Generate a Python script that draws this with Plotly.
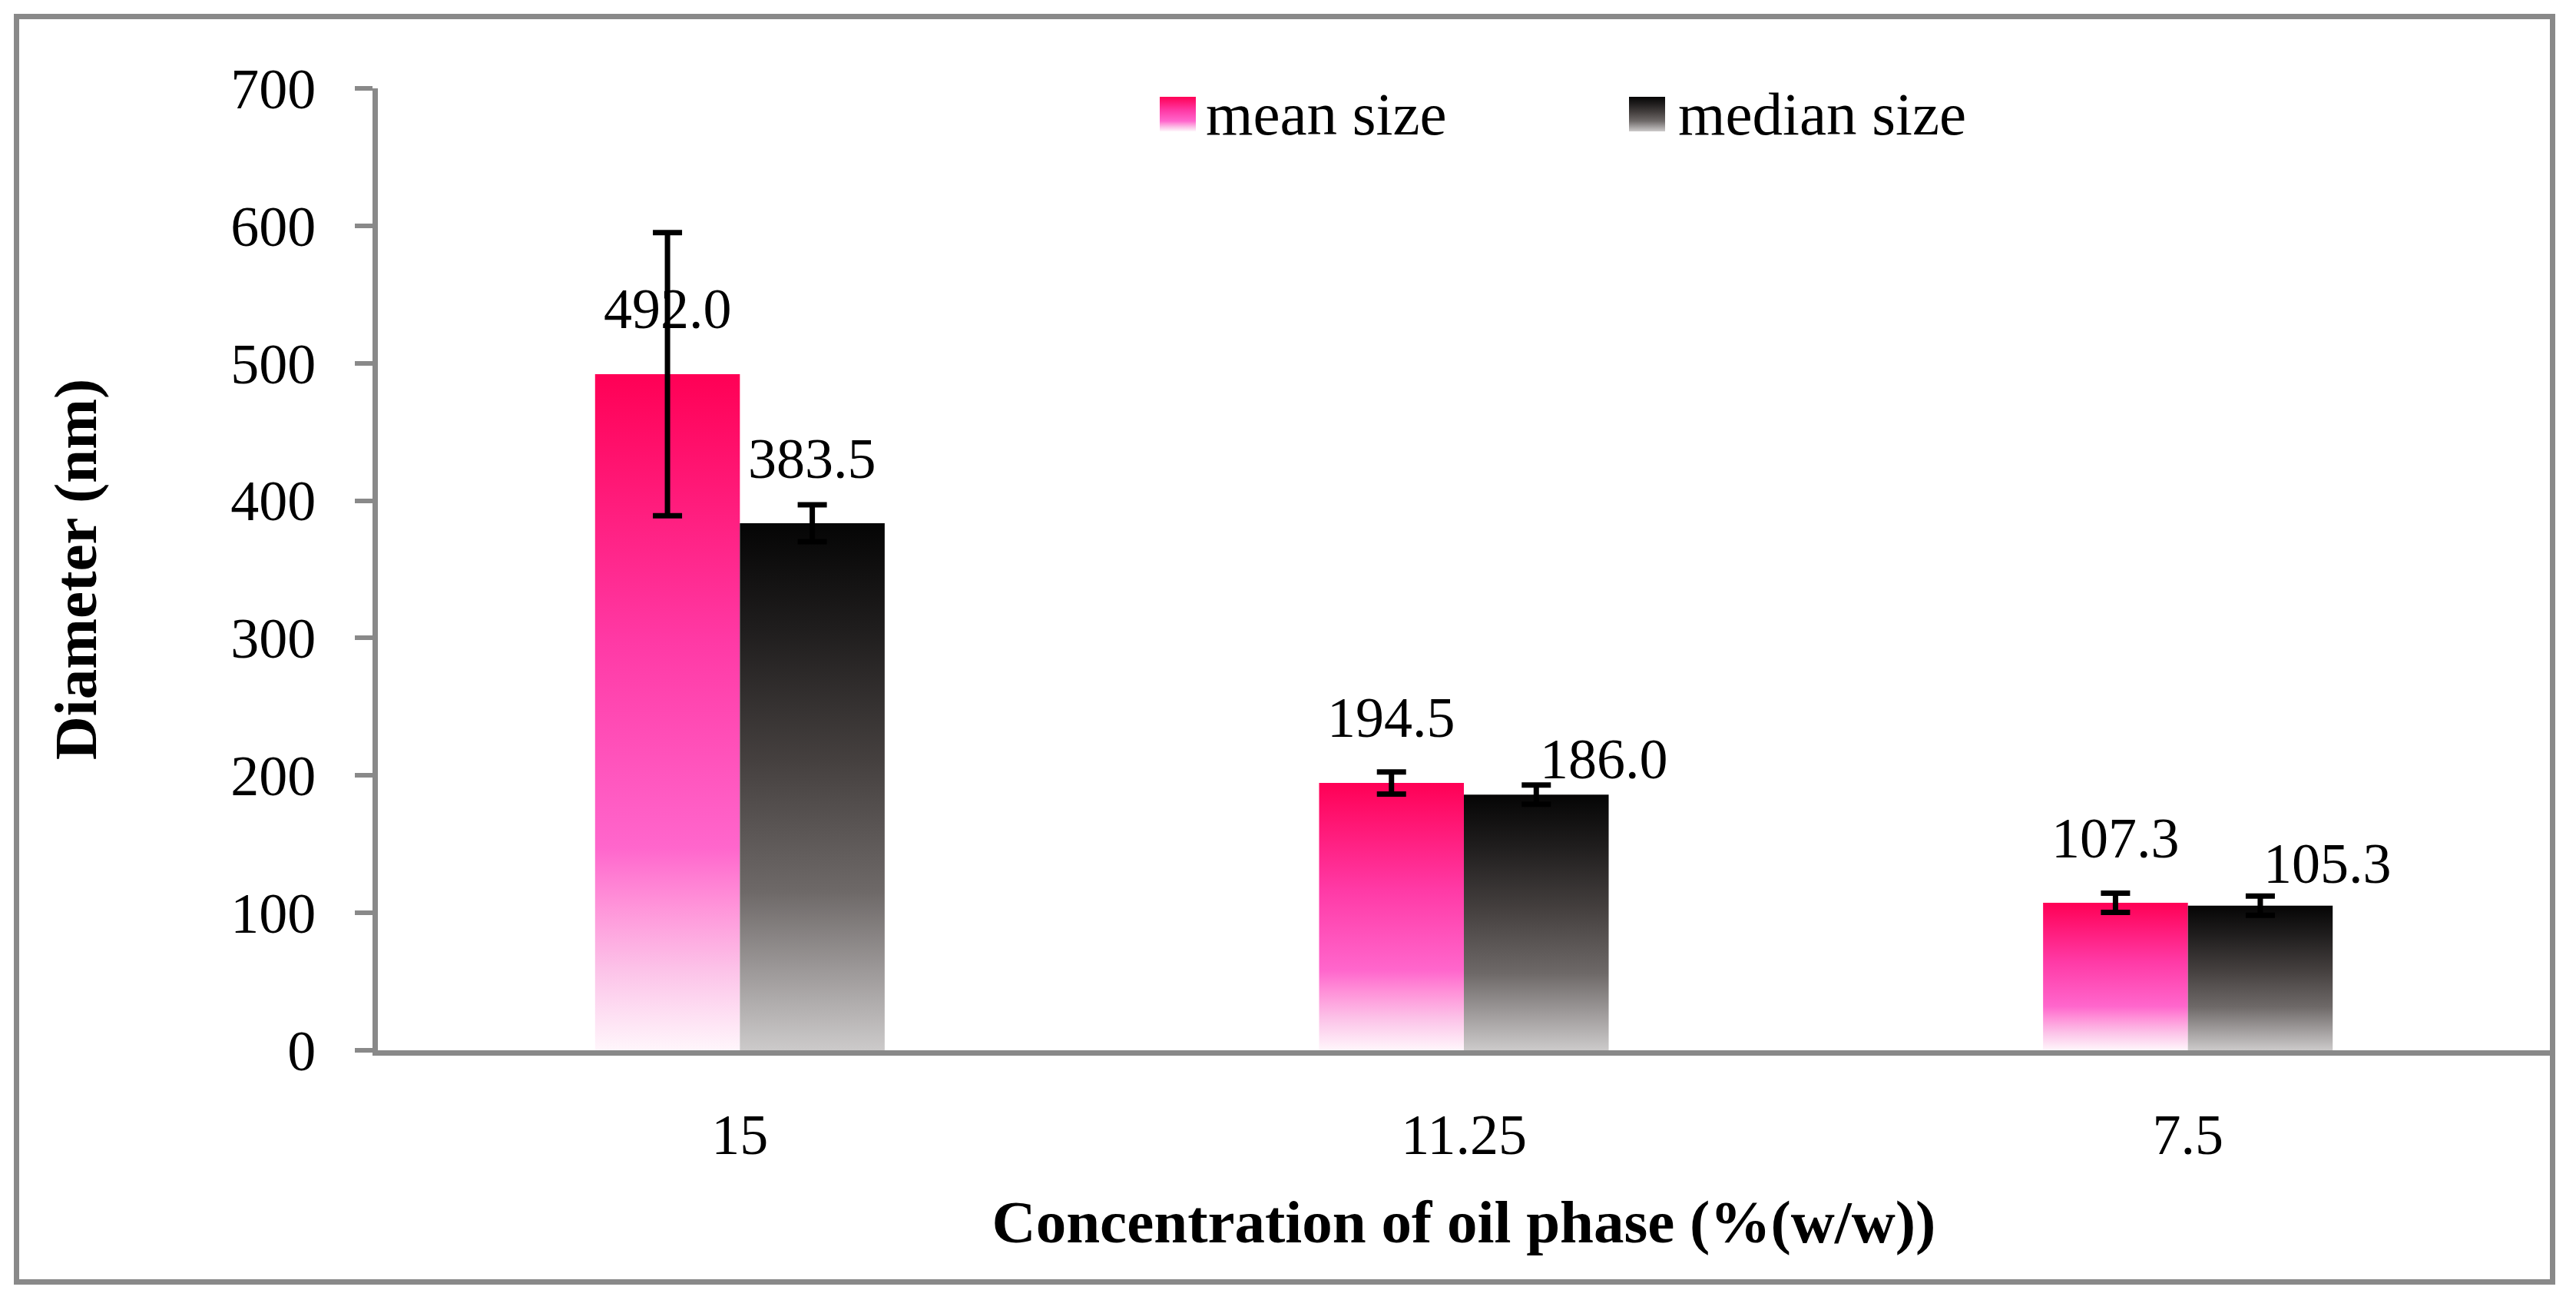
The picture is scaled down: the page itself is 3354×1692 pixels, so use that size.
import base64
import plotly.graph_objects as go

# ---------------- data ----------------
categories = ["15", "11.25", "7.5"]
series_names = ["mean size", "median size"]
mean_size = [492.0, 194.5, 107.3]
median_size = [383.5, 186.0, 105.3]
mean_err = [103.0, 8.0, 7.0]
median_err = [13.4, 7.0, 7.0]
y_tick_vals = [0, 100, 200, 300, 400, 500, 600, 700]
x_title = "Concentration of oil phase (%(w/w))"
y_title = "Diameter (nm)"

# ---------------- style ----------------
W, H = 3354, 1692
OFF = 8                      # default page margin of the html body
L, R, T, B = 484, 42, 107, 333
FONT = "Liberation Serif"
AXIS_GREY = "#898989"
BAR_W = 0.2                  # fraction of category width per bar

mean_scale = [[0.0, "#FFF6FB"], [0.12, "#FCC2E8"], [0.22, "#FF90D8"],
              [0.30, "#FF66CC"], [0.60, "#FF3AA6"], [1.0, "#FF0055"]]
median_scale = [[0.0, "#CCCACA"], [0.15, "#9D9999"], [0.30, "#6E6968"],
                [0.55, "#45403F"], [0.80, "#1F1D1D"], [1.0, "#050505"]]

# label offsets in px (dx, dy) relative to bar top centre
mean_label_shift = [(0, 85), (0, 85), (0, 84)]
median_label_shift = [(0, 84), (88, 46), (88, 55)]

# legend swatch placement (screen px)
legend_swatch_x = [1510, 2121]
LEG_SW_Y, LEG_SW_W, LEG_SW_H = 126, 47, 45

series = [
    (series_names[0], mean_size, mean_err, mean_scale, mean_label_shift),
    (series_names[1], median_size, median_err, median_scale, median_label_shift),
]

pw = W - L - R
ph = H - T - B


def px_x(p):
    return (p - OFF - L) / pw


def px_y(p):
    return (H - B - (p - OFF)) / ph


def swatch_uri(cs):
    stops = "".join(
        f'<stop offset="{pos}" stop-color="{col}"/>' for pos, col in cs)
    svg = (f'<svg xmlns="http://www.w3.org/2000/svg" width="{LEG_SW_W}" height="{LEG_SW_H}" '
           f'preserveAspectRatio="none">'
           f'<defs><linearGradient id="g" x1="0" y1="1" x2="0" y2="0">{stops}</linearGradient></defs>'
           f'<rect width="{LEG_SW_W}" height="{LEG_SW_H}" fill="url(#g)"/></svg>')
    return "data:image/svg+xml;base64," + base64.b64encode(svg.encode()).decode()


fig = go.Figure()

# bars as gradient-filled polygons (one per bar so each gets its own gradient)
for s, (name, vals, errs, cs, _) in enumerate(series):
    for i, v in enumerate(vals):
        x0 = i - BAR_W + s * BAR_W
        x1 = x0 + BAR_W
        fig.add_trace(go.Scatter(
            x=[x0, x0, x1, x1, x0], y=[0, v, v, 0, 0],
            mode="none", fill="toself",
            fillgradient=dict(type="vertical", colorscale=cs),
            name=name, legendgroup=name, showlegend=False,
            hoverinfo="skip",
        ))

# error bars
for s, (name, vals, errs, cs, _) in enumerate(series):
    xs = [i - BAR_W / 2 + s * BAR_W for i in range(len(vals))]
    fig.add_trace(go.Scatter(
        x=xs, y=vals, mode="markers",
        marker=dict(size=1, color="rgba(0,0,0,0)"),
        error_y=dict(type="data", array=errs, visible=True,
                     color="black", thickness=7, width=19),
        showlegend=False, hoverinfo="skip", legendgroup=name,
    ))

# legend entries (text from the legend, gradient swatches drawn as images)
for name in series_names:
    fig.add_trace(go.Scatter(
        x=[None], y=[None], mode="markers", name=name, legendgroup=name,
        marker=dict(size=2, color="rgba(0,0,0,0)"), showlegend=True,
    ))

images = []
for (name, vals, errs, cs, _), sx in zip(series, legend_swatch_x):
    images.append(dict(
        source=swatch_uri(cs), xref="paper", yref="paper",
        x=px_x(sx), y=px_y(LEG_SW_Y), sizex=LEG_SW_W / pw, sizey=LEG_SW_H / ph,
        xanchor="left", yanchor="top", sizing="stretch", layer="above",
    ))

# data labels
annotations = []
for s, (name, vals, errs, cs, shifts) in enumerate(series):
    for i, v in enumerate(vals):
        dx, dy = shifts[i]
        annotations.append(dict(
            x=i - BAR_W / 2 + s * BAR_W, y=v, xref="x", yref="y",
            text=f"{v:.1f}", showarrow=False,
            xanchor="center", yanchor="middle",
            xshift=dx, yshift=dy,
            font=dict(family=FONT, size=74, color="black"),
        ))

shapes = [dict(
    type="rect", xref="paper", yref="paper",
    x0=px_x(21.5), x1=px_x(3323.5), y0=px_y(1668.5), y1=px_y(21.5),
    line=dict(color=AXIS_GREY, width=7), fillcolor="rgba(0,0,0,0)", layer="below",
)]

fig.update_layout(
    width=W, height=H,
    margin=dict(l=L, r=R, t=T, b=B, pad=0),
    paper_bgcolor="white", plot_bgcolor="white",
    font=dict(family=FONT, color="black"),
    showlegend=True,
    legend=dict(
        orientation="h", x=px_x(1513), xanchor="left",
        y=px_y(144), yanchor="middle",
        font=dict(family=FONT, size=79, color="black"),
        itemwidth=47, entrywidth=553, entrywidthmode="pixels",
        bgcolor="rgba(0,0,0,0)", traceorder="normal",
        itemclick=False, itemdoubleclick=False,
    ),
    annotations=annotations,
    shapes=shapes,
    images=images,
    xaxis=dict(
        range=[-0.5, 2.5], tickmode="array", tickvals=list(range(len(categories))),
        ticktext=categories, showline=True, linecolor=AXIS_GREY, linewidth=7,
        ticks="", showgrid=False, zeroline=False,
        tickfont=dict(family=FONT, size=74, color="black"),
        ticklabelstandoff=39,
        title=dict(text=x_title, standoff=47,
                   font=dict(family=FONT, size=79, color="black", weight="bold")),
    ),
    yaxis=dict(
        range=[0, 700], tickmode="array", tickvals=y_tick_vals,
        showline=True, linecolor=AXIS_GREY, linewidth=7,
        ticks="outside", ticklen=23, tickwidth=6, tickcolor=AXIS_GREY,
        showgrid=False, zeroline=False,
        tickfont=dict(family=FONT, size=74, color="black"),
        ticklabelstandoff=36,
        title=dict(text=y_title, standoff=151,
                   font=dict(family=FONT, size=79, color="black", weight="bold")),
    ),
)

fig.write_html("out.html")
